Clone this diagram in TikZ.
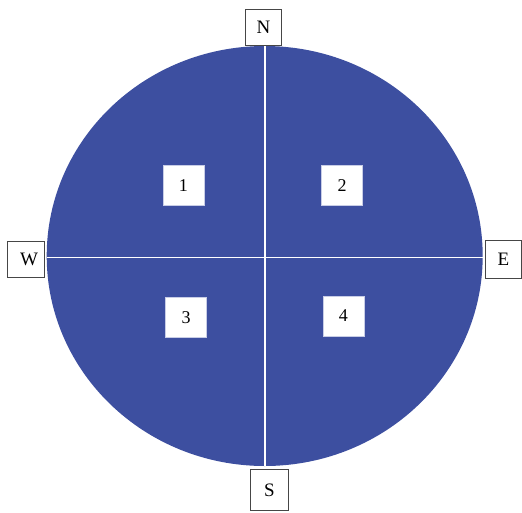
\documentclass[tikz,border=0pt]{standalone}
\usepackage{fontspec}
\setmainfont{Liberation Serif}
\definecolor{discblue}{RGB}{61,79,160}
\definecolor{boxedge}{RGB}{70,70,70}
\definecolor{numedge}{RGB}{200,205,230}
\tikzset{
  compass/.style={draw=boxedge, line width=1pt, fill=white, minimum width=36pt, minimum height=36pt, inner sep=0pt, font=\fontsize{19}{19}\selectfont},
  numbox/.style={draw=numedge, line width=0.6pt, fill=white, minimum width=41pt, minimum height=40pt, inner sep=0pt, font=\fontsize{18}{18}\selectfont},
  divider/.style={draw=white, line width=1.5pt}
}
\begin{document}
\begin{tikzpicture}[x=1pt,y=-1pt]
\useasboundingbox (0,0) rectangle (522,512);
\fill[discblue] (264.7,256) ellipse [x radius=218, y radius=210];
\coordinate (top) at (265,46);
\coordinate (bottom) at (265,466);
\coordinate (left) at (46.7,257.5);
\coordinate (right) at (482.7,257.5);
\draw[divider] (top) -- (bottom);
\draw[divider] (left) -- (right);
\node[compass] (N) at (263.5,27.5) {N};
\node[compass, minimum width=37pt, text width=37pt, align=center] (W) at (25.5,259.5) {\hspace*{7pt}W};
\node[compass, minimum height=38pt] (E) at (503.5,259.5) {E};
\node[compass, minimum width=38pt, minimum height=41pt] (S) at (269.5,490) {S};
\node[numbox] (n1) at (183.3,185.2) {1};
\node[numbox] (n2) at (342,185.2) {2};
\node[numbox] (n3) at (186,317.3) {3};
\node[numbox] (n4) at (343.3,316) {4};
\end{tikzpicture}
\end{document}
